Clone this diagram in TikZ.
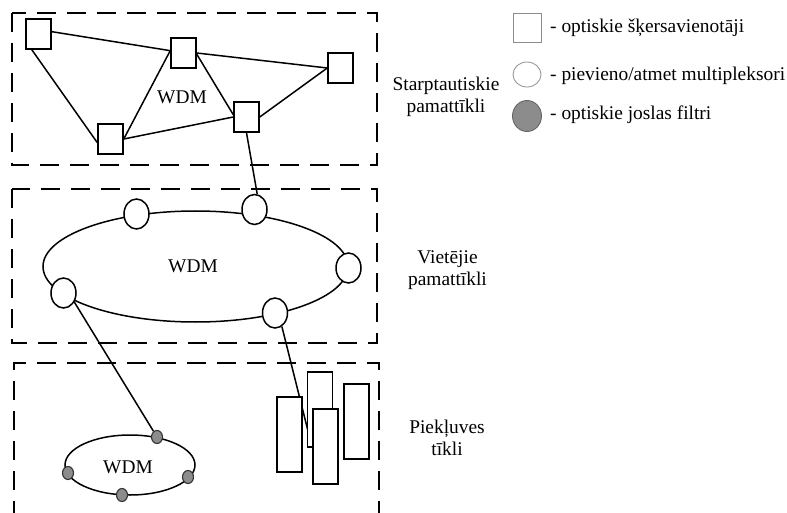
\documentclass[tikz,border=0pt]{standalone}
\usepackage{fontspec}
\setmainfont{Liberation Serif}
\usetikzlibrary{shapes.geometric,backgrounds}
\definecolor{fltgray}{RGB}{140,140,140}
\begin{document}
\begin{tikzpicture}[x=1pt,y=-1pt,
  every node/.style={font=\fontsize{19.4}{21.5}\selectfont},
  sq/.style={rectangle,draw,fill=white,line width=1.5pt,minimum width=25pt,minimum height=30pt,inner sep=0pt},
  adm/.style={ellipse,draw,fill=white,line width=1.5pt,minimum width=25pt,minimum height=30pt,inner sep=0pt},
  flt/.style={ellipse,draw=black!80,fill=fltgray,line width=1.1pt,minimum width=11pt,minimum height=13pt,inner sep=0pt},
  tall/.style={rectangle,draw,fill=white,line width=1.5pt,minimum width=25pt,minimum height=75pt,inner sep=0pt},
  ring/.style={ellipse,draw,line width=1.5pt,inner sep=0pt},
  zone/.style={line width=1.9pt,dash pattern=on 19pt off 11pt},
  link/.style={line width=1.5pt},
  lbl/.style={align=center,inner sep=0pt},
  lgd/.style={anchor=base west,inner sep=0pt}]
\useasboundingbox (0,0) rectangle (787,513);

% dashed zones
\draw[zone] (12,13) rectangle (377,165);
\draw[zone] (12,189) rectangle (377,343);
\draw[zone] (14,520) -- (14,363) -- (379,363) -- (379,520);

% top mesh
\node[sq] (S1) at (38.5,34) {};
\node[sq] (S2) at (183.5,53) {};
\node[sq] (S3) at (340.5,68) {};
\node[sq] (S4) at (110.5,139) {};
\node[sq] (S5) at (246.5,117) {};
\node[inner sep=0pt] (w1) at (182,97) {WDM};

% middle ring
\node[ring,minimum width=305pt,minimum height=111pt] (R) at (195.5,266.5) {};
\node[inner sep=0pt] (w2) at (193,266) {WDM};
\node[adm] (C1) at (136.5,214) {};
\node[adm] (C2) at (254.5,209.5) {};
\node[adm] (C3) at (348.5,268) {};
\node[adm] (C4) at (63.5,293) {};
\node[adm] (C5) at (275,313) {};

% bottom ring
\node[ring,minimum width=130pt,minimum height=60pt] (r) at (130,465) {};
\node[inner sep=0pt] (w3) at (128,467) {WDM};
\node[flt] (G1) at (157,437) {};
\node[flt] (G2) at (68,473) {};
\node[flt] (G3) at (188,477) {};
\node[flt] (G4) at (122,495) {};

% access blocks
\node[tall] (B1) at (289.5,434.5) {};
\node[tall] (B2) at (320,409.5) {};
\node[tall] (B3) at (325.5,446.5) {};
\node[tall] (B4) at (356.5,421.5) {};
\coordinate (rin) at (308,431);

% connectors
\begin{pgfonlayer}{background}
\draw[link] (S1.10) -- (S2.170);
\draw[link] (S1.247) -- (S4.195);
\draw[link] (S4.east) -- (S2.170);
\draw[link] (S2.east) -- (S3.west);
\draw[link] (S2.355) -- (S5.170);
\draw[link] (S4.east) -- (S5.west);
\draw[link] (S5.east) -- (S3.west);
\draw[link] (S5.south) -- (C2.80);
\draw[link] (C4.-40) -- (G1);
\draw[link] (C5.-63) -- (rin);
\end{pgfonlayer}

% labels
\node[lbl] (L1) at (446,96.7) {Starptautiskie\\pamattīkli};
\node[lbl] (L2) at (447.5,270) {Vietējie\\pamattīkli};
\node[lbl] (L3) at (447,438) {Piekļuves\\tīkli};

% legend
\node[rectangle,draw=black!45,line width=0.9pt,minimum width=28pt,minimum height=29pt,inner sep=0pt] (K1) at (527,27.5) {};
\node[ellipse,draw=black!40,line width=0.9pt,minimum width=28pt,minimum height=25pt,inner sep=0pt] (K2) at (527,74.5) {};
\node[ellipse,draw=black!60,fill=fltgray,line width=0.9pt,minimum width=29pt,minimum height=31pt,inner sep=0pt] (K3) at (527,116) {};
\node[lgd] (T1) at (550,33) {- optiskie šķersavienotāji};
\node[lgd] (T2) at (550,81) {- pievieno/atmet multipleksori};
\node[lgd] (T3) at (550,120) {- optiskie joslas filtri};
\end{tikzpicture}
\end{document}
